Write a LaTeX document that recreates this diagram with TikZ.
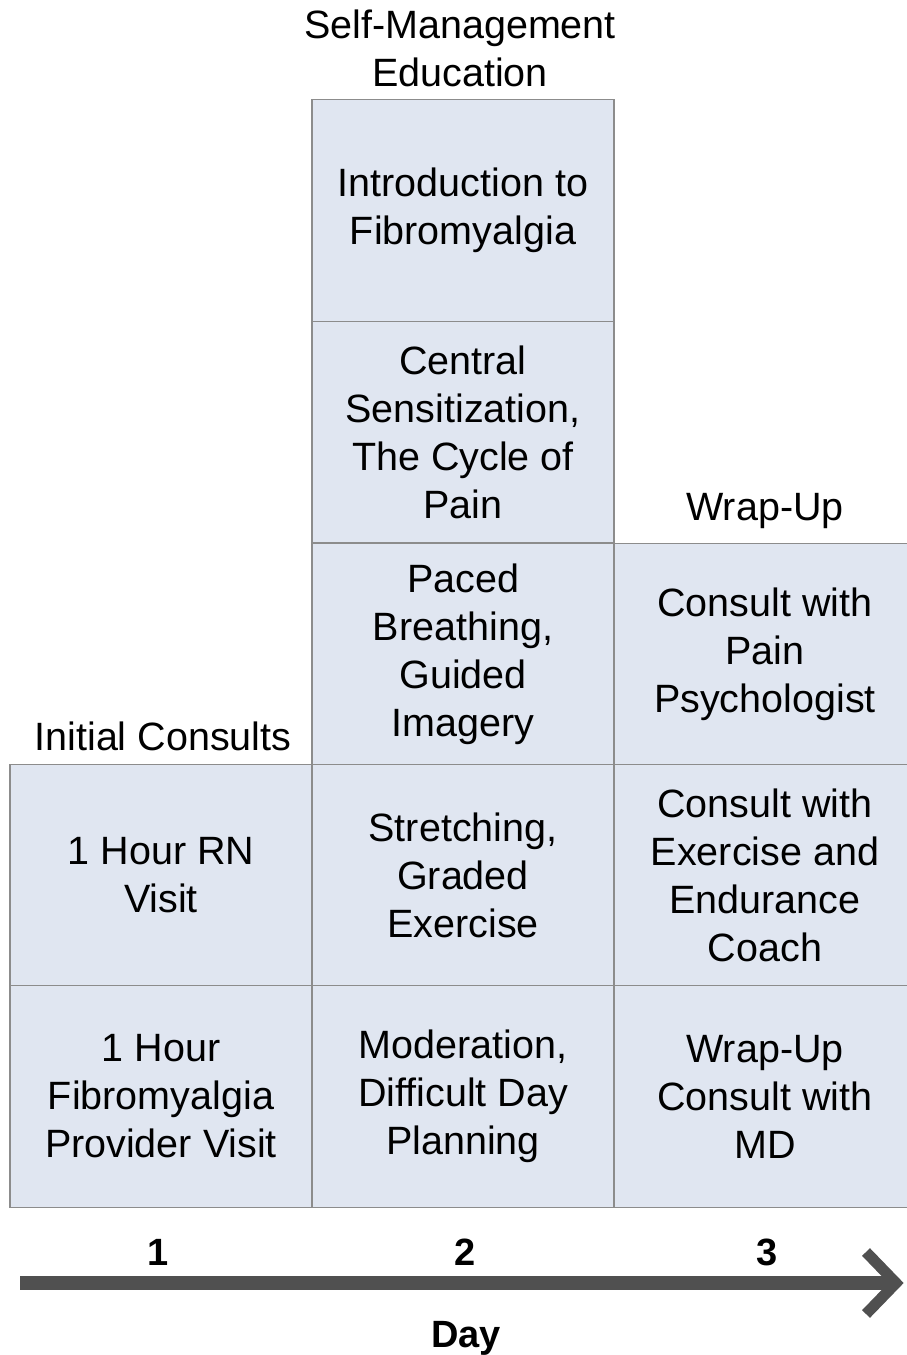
\documentclass[tikz,border=0pt]{standalone}
\usepackage{fontspec}
\setmainfont{Liberation Sans}
\definecolor{boxfill}{HTML}{E0E6F1}
\definecolor{boxline}{HTML}{8C8C8C}
\definecolor{arrowgray}{HTML}{505050}
\begin{document}
\begin{tikzpicture}[x=1pt,y=-1pt,
  cell/.style={draw=boxline, line width=1.2pt, fill=boxfill, rectangle,
    minimum width=302pt, minimum height=221.5pt, inner sep=0pt,
    align=center, font=\fontsize{39.5}{48}\selectfont},
  head/.style={inner sep=0pt, align=center, font=\fontsize{39.5}{48}\selectfont},
  daylab/.style={inner sep=0pt, font=\fontsize{38}{44}\selectfont\bfseries}
]
\useasboundingbox (0,0) rectangle (907,1355);
% column 2
\node[cell] (intro) at (463,210.5) {Introduction to\\Fibromyalgia};
\node[cell] (central) at (463,432) {Central\\Sensitization,\\The Cycle of\\Pain};
\node[cell] (paced) at (463,654) {Paced\\Breathing,\\Guided\\Imagery};
\node[cell] (stretch) at (463,875.5) {Stretching,\\Graded\\Exercise};
\node[cell] (moder) at (463,1096.5) {Moderation,\\Difficult Day\\Planning};
% column 1
\node[cell] (rn) at (161,875.5) {1 Hour RN\\Visit};
\node[cell] (prov) at (161,1096.5) {1 Hour\\Fibromyalgia\\Provider Visit};
% column 3
\node[cell] (psych) at (765,654) {Consult with\\Pain\\Psychologist};
\node[cell] (coach) at (765,875.5) {Consult with\\Exercise and\\Endurance\\Coach};
\node[cell] (md) at (765,1096.5) {Wrap-Up\\Consult with\\MD};
% headers
\node[head, anchor=base] (selfhead) at (460,38) {Self-Management};
\node[head, anchor=base] (eduhead) at (460,86) {Education};
\node[head, anchor=base] (inithead) at (163,750) {Initial Consults};
\node[head, anchor=base] (wraphead) at (765,520) {Wrap-Up};
% day axis
\coordinate (axstart) at (20,1283);
\coordinate (axend) at (896,1283);
\coordinate (armtop) at (866,1252);
\coordinate (armbot) at (866,1314);
\draw[arrowgray, line width=14pt] (axstart) -- (axend);
\draw[arrowgray, line width=11pt, miter limit=4, line join=miter] (armtop) -- (axend) -- (armbot);
\node[daylab, anchor=base] (d1) at (158,1265) {1};
\node[daylab, anchor=base] (d2) at (465,1265) {2};
\node[daylab, anchor=base] (d3) at (767,1265) {3};
\node[daylab, anchor=base] (day) at (466,1347) {Day};
\end{tikzpicture}
\end{document}
